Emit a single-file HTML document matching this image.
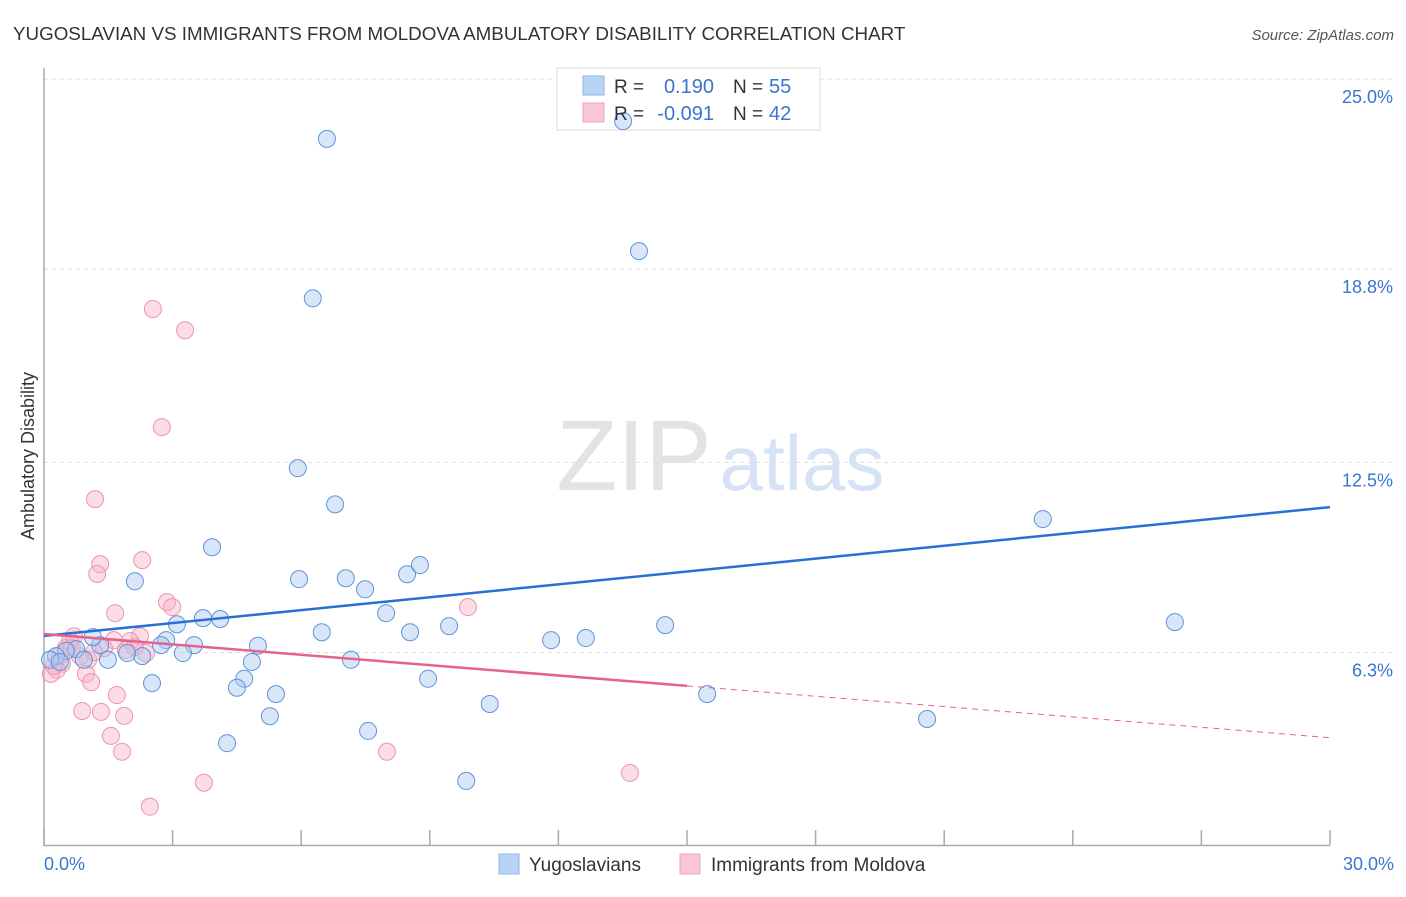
<!DOCTYPE html>
<html><head><meta charset="utf-8"><style>
body{margin:0;background:#fff;font-family:"Liberation Sans",sans-serif;}
svg text{font-family:"Liberation Sans",sans-serif;}
</style></head><body>
<svg width="1406" height="892" xmlns="http://www.w3.org/2000/svg">
<text x="13" y="40" font-size="18.8" fill="#333">YUGOSLAVIAN VS IMMIGRANTS FROM MOLDOVA AMBULATORY DISABILITY CORRELATION CHART</text>
<text x="1394" y="40" font-size="15" fill="#555" font-style="italic" text-anchor="end">Source: ZipAtlas.com</text>
<g id="grid"></g>
<text x="634" y="490" font-size="100" fill="#e3e3e3" font-family="Liberation Serif" text-anchor="middle">ZIP</text>
<text x="802" y="490" font-size="78" fill="#d6e3f5" text-anchor="middle">atlas</text>
<g>
<rect x="557" y="68" width="263" height="62" fill="#fff" stroke="#ddd"/>
</g>
<g id="pts"></g>
<g id="lines"></g>
<text transform="translate(34,456) rotate(-90)" font-size="18" fill="#333" text-anchor="middle">Ambulatory Disability</text>
<text x="44" y="870" font-size="18" fill="#3a75d0">0.0%</text>
<text x="1394" y="870" font-size="18" fill="#3a75d0" text-anchor="end">30.0%</text>
<g>
<rect x="583" y="76" width="21" height="19" fill="#b9d3f5" stroke="#8db4ea"/>
<rect x="583" y="103" width="21" height="19" fill="#f9c6d5" stroke="#eea0b8"/>
<text x="614" y="93" font-size="19" fill="#333">R =</text>
<text x="714" y="93" font-size="20" fill="#3a75d0" text-anchor="end">0.190</text>
<text x="733" y="93" font-size="19" fill="#333">N =</text>
<text x="769" y="93" font-size="20" fill="#3a75d0">55</text>
<text x="614" y="120" font-size="19" fill="#333">R =</text>
<text x="714" y="120" font-size="20" fill="#3a75d0" text-anchor="end">-0.091</text>
<text x="733" y="120" font-size="19" fill="#333">N =</text>
<text x="769" y="120" font-size="20" fill="#3a75d0">42</text>
</g>
<g>
<rect x="499" y="854" width="20" height="20" fill="#b9d3f5" stroke="#8db4ea"/>
<text x="529" y="871" font-size="19" fill="#333">Yugoslavians</text>
<rect x="680" y="854" width="20" height="20" fill="#f9c6d5" stroke="#eea0b8"/>
<text x="711" y="871" font-size="19" fill="#333">Immigrants from Moldova</text>
</g>
</svg>
<script>
const yTicks=[6.3,12.5,18.8,25.0];
const yTickLabels=["6.3%","12.5%","18.8%","25.0%"];
const xTicks=[0,3,6,9,12,15,18,21,24,27,30];
const blueX=[6.60,13.51,13.88,6.27,5.92,6.79,3.92,2.12,5.95,7.04,7.49,8.47,8.77,7.98,8.54,9.45,6.48,11.83,12.64,14.49,23.30,26.38,15.47,20.60,10.40,9.85,7.56,8.96,7.16,4.99,4.85,4.67,4.50,5.41,5.27,4.27,2.52,3.71,4.11,3.10,2.85,3.50,3.24,2.73,2.29,1.94,1.49,1.31,1.14,0.75,0.51,0.28,0.14,0.37,0.93];
const blueY=[23.05,23.63,19.39,17.85,12.31,11.13,9.73,8.62,8.69,8.72,8.36,8.85,9.15,7.58,6.96,7.16,6.96,6.70,6.77,7.19,10.65,7.29,4.94,4.13,4.62,2.11,3.74,5.44,6.06,6.52,5.99,5.44,5.15,4.94,4.22,3.34,5.30,7.42,7.39,7.22,6.70,6.54,6.28,6.54,6.18,6.28,6.06,6.54,6.80,6.41,6.35,6.18,6.06,5.99,6.06];
const pinkX=[2.54,3.29,2.75,1.19,1.31,1.24,2.29,2.87,2.99,1.66,9.89,2.24,2.01,1.63,0.70,0.61,1.03,0.42,0.30,0.16,0.98,1.10,1.70,0.89,1.33,1.87,1.56,1.82,8.00,13.67,3.73,2.47,2.12,1.40,0.51,0.84,0.23,0.37,0.65,1.91,1.17,2.38];
const pinkY=[17.50,16.81,13.65,11.30,9.18,8.86,9.31,7.94,7.78,7.58,7.78,6.83,6.67,6.70,6.83,6.67,6.06,5.93,5.73,5.60,5.60,5.33,4.91,4.39,4.36,4.23,3.58,3.06,3.06,2.37,2.05,1.27,6.47,6.44,6.44,6.18,5.86,6.21,6.44,6.38,6.31,6.28];
const blueTrend=[6.84,11.04];
const pinkTrend=[6.90,3.52];
const pinkSolidEnd=15.0;
const NS="http://www.w3.org/2000/svg";
const X=v=>44+v*1286/30, Y=v=>845.6-v*30.66;
function mk(tag,at,parent){const e=document.createElementNS(NS,tag);for(const k in at)e.setAttribute(k,at[k]);parent.appendChild(e);return e;}
const grid=document.getElementById('grid');
yTicks.forEach((t,i)=>{
 const l=mk('line',{x1:44,x2:1394,y1:Y(t),y2:Y(t),stroke:'#ddd','stroke-dasharray':'4,4'},grid);
 
 
 const tx=mk('text',{x:1393,y:Y(t)+24,'font-size':18,fill:'#3a75d0','text-anchor':'end'},grid);
 tx.textContent=yTickLabels[i];
 
 
});
const ax=mk('path',{d:'M44 68V845.5H1330',stroke:'#aaa',fill:'none','stroke-width':1.5},grid);


xTicks.forEach(t=>{
 const l=mk('line',{x1:X(t),x2:X(t),y1:845,y2:830,stroke:'#aaa','stroke-width':1.5},grid);
 
 
});
const pts=document.getElementById('pts');
pinkX.forEach((x,i)=>{
 const c=mk('circle',{cx:X(x),cy:Y(pinkY[i]),r:8.5,fill:'rgba(248,180,200,0.45)',stroke:'#eb94b0','stroke-width':1},pts);
 
 
});
blueX.forEach((x,i)=>{
 const c=mk('circle',{cx:X(x),cy:Y(blueY[i]),r:8.5,fill:'rgba(168,200,240,0.45)',stroke:'#5f93db','stroke-width':1},pts);
 
 
});
const lines=document.getElementById('lines');
const bl=mk('line',{x1:X(0),y1:Y(blueTrend[0]),x2:X(30),y2:Y(blueTrend[1]),stroke:'#2a6fd6','stroke-width':2.5},lines);


const pm=pinkTrend[0]+(pinkTrend[1]-pinkTrend[0])*pinkSolidEnd/30;
const pl=mk('line',{x1:X(0),y1:Y(pinkTrend[0]),x2:X(pinkSolidEnd),y2:Y(pm),stroke:'#e5618e','stroke-width':2.5},lines);


const pd=mk('line',{x1:X(pinkSolidEnd),y1:Y(pm),x2:X(30),y2:Y(pinkTrend[1]),stroke:'#e5618e','stroke-width':1,'stroke-dasharray':'6,5'},lines);


</script>
</body></html>
